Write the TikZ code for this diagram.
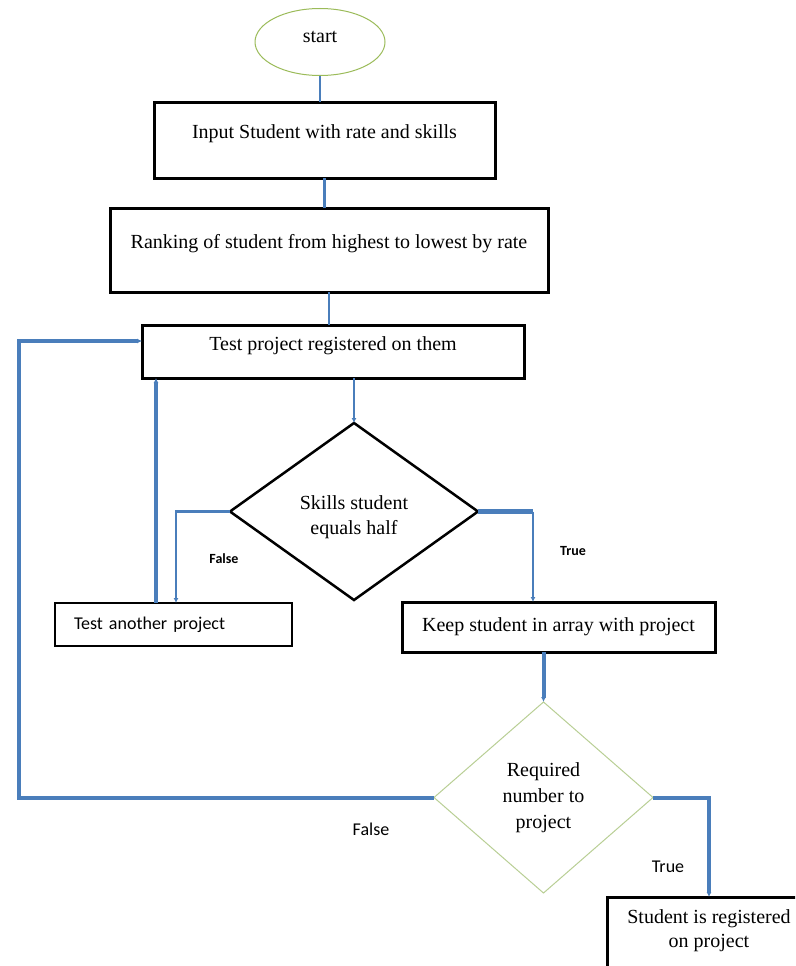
\documentclass[tikz,border=0pt]{standalone}
\usepackage{fontspec}
\setmainfont{Liberation Serif}
\newfontfamily\lblfont{Carlito}
\usetikzlibrary{shapes.geometric,arrows.meta}
\definecolor{lineblue}{HTML}{4A7EBB}
\definecolor{startgreen}{HTML}{9BBB59}
\definecolor{diagreen}{HTML}{B9CF95}
\begin{document}
\begin{tikzpicture}[x=1pt,y=-1pt,
  procbox/.style={draw=black,line width=3pt,rectangle,inner sep=0pt,outer sep=0pt,
    font=\fontsize{20}{24}\selectfont,align=center},
  thinline/.style={draw=lineblue,line width=2.5pt},
  thickline/.style={draw=lineblue,line width=4pt},
  tip/.style={-{Latex[length=5pt,width=5pt]}},
  lblb/.style={font=\lblfont\bfseries\fontsize{14}{16}\selectfont,inner sep=0pt},
  lblr/.style={font=\lblfont\fontsize{18}{20}\selectfont,inner sep=0pt}]
\useasboundingbox (0,0) rectangle (795,966);
\clip (0,0) rectangle (795,966);
\fill[white] (0,0) rectangle (795,966);

% nodes
\node[ellipse,draw=startgreen,line width=1pt,minimum width=130pt,minimum height=67pt,
  inner sep=0pt,outer sep=0pt,font=\fontsize{20}{24}\selectfont,text depth=10pt] (start) at (320,42) {start};
\node[procbox,minimum width=341pt,minimum height=76pt,text height=14pt,text depth=18pt] (box1) at (324.5,140)
  {Input Student with rate and skills};
\node[procbox,minimum width=438pt,minimum height=84pt,text height=14pt,text depth=18pt] (box2) at (329,250)
  {Ranking of student from highest to lowest by rate};
\node[procbox,minimum width=382pt,minimum height=53pt,text height=14pt,text depth=16pt] (box3) at (333,351.5)
  {Test project registered on them};
\node[diamond,draw=black,line width=2.5pt,minimum width=248pt,minimum height=177pt,inner sep=0pt,outer sep=0pt,
  font=\fontsize{20}{25}\selectfont,align=center,text height=51pt,text depth=5pt] (d1) at (354,511.5) {Skills student\\equals half};
\node[procbox,line width=2.5pt,minimum width=237pt,minimum height=43pt,text width=199pt,align=left,
  font=\lblfont\fontsize{18}{20}\selectfont] (box4) at (173.5,624.5) {Test another project};
\node[procbox,minimum width=313pt,minimum height=50pt] (box5) at (558.5,627)
  {Keep student in array with project};
\node[diamond,draw=diagreen,line width=1pt,minimum width=219pt,minimum height=191pt,inner sep=0pt,outer sep=0pt,
  font=\fontsize{20}{26}\selectfont,align=center] (d2) at (543.5,797.5) {Required\\number to\\project};
\node[procbox,minimum width=204pt,minimum height=82pt,text depth=18pt] (box6) at (709,938)
  {Student is registered\\on project};

% labels
\node[lblb] (lf1) at (224,559) {False};
\node[lblb] (lt1) at (573,551) {True};
\node[lblr] (lf2) at (371,829) {False};
\node[lblr] (lt2) at (668,867) {True};

% helper coordinates
\coordinate (f1) at (176,603);
\coordinate (b4) at (156,603);
\coordinate (t1) at (533,602);
\coordinate (lc) at (19,341);

% connectors
\draw[thinline] (start.south) -- (start.south |- box1.north);
\draw[thinline] (box1.south) -- (box1.south |- box2.north);
\draw[thinline] (box2.south) -- (box2.south |- box3.north);
\draw[thinline,line width=2pt,tip] (d1.north |- box3.south) -- (d1.north);
\draw[thinline,tip] (d1.west) -| (f1);
\draw[thickline,tip] (b4) -- (b4 |- box3.south);
\draw[thickline,line width=5pt] (d1.east) -- (d1.east -| t1);
\draw[thinline,tip] (d1.east -| t1) -- (t1);
\draw[thickline,tip] (d2.north |- box5.south) -- (d2.north);
\draw[thickline,tip] (d2.west) -| (lc) -- (lc -| box3.west);
\draw[thickline,tip] (d2.east) -| (box6.north);
\end{tikzpicture}
\end{document}
